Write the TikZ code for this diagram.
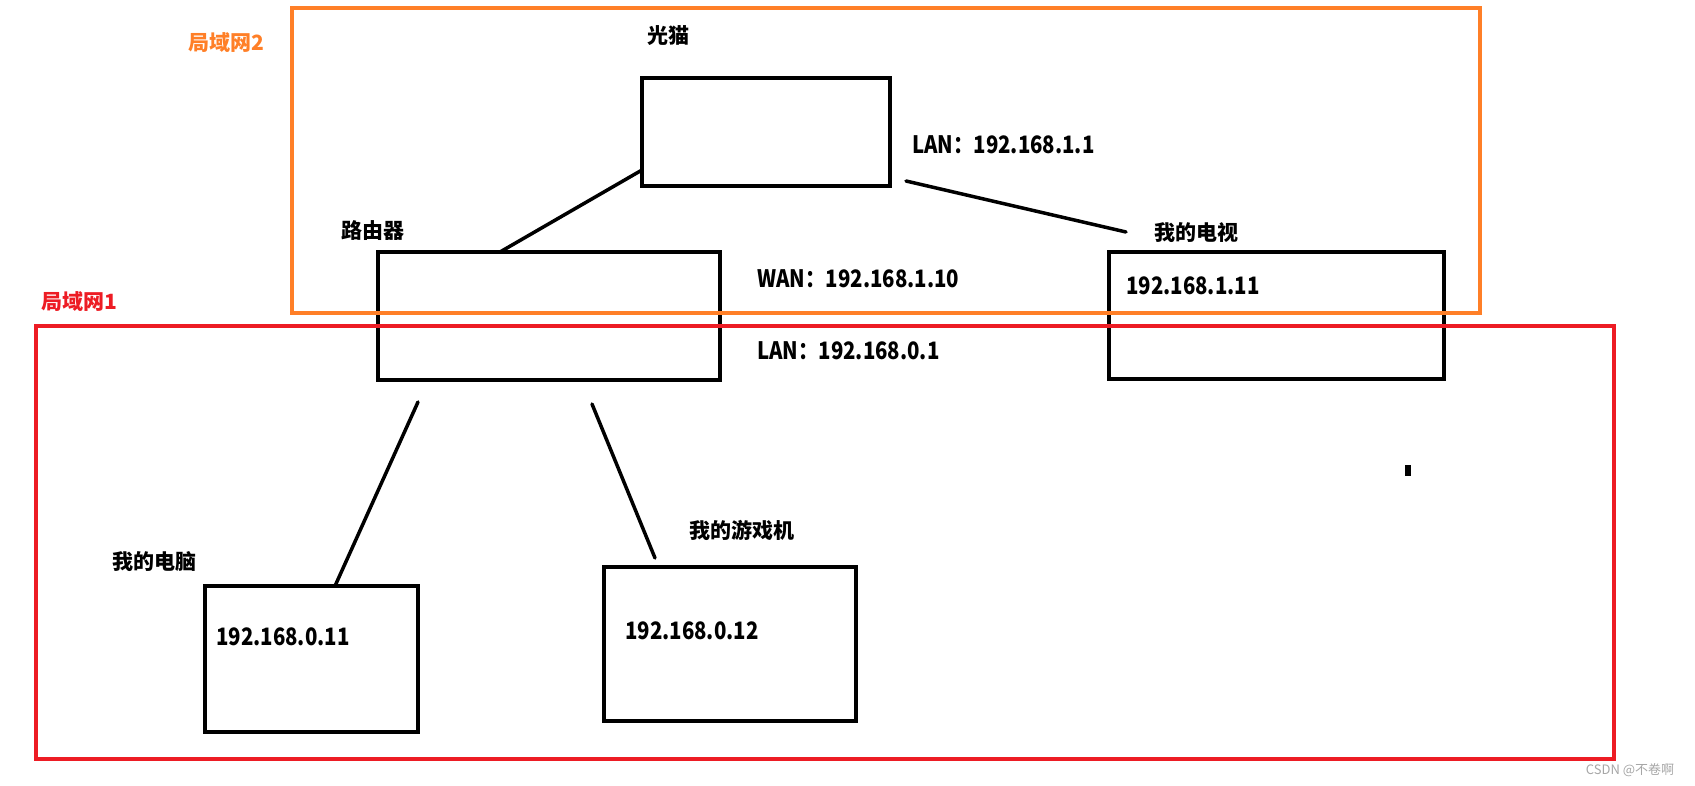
\documentclass[tikz,border=0pt]{standalone}
\usepackage{fontspec}
\setmainfont{Noto Sans CJK SC}
\newfontfamily\addrfont{Noto Sans CJK SC}[FakeStretch=0.85]
\usetikzlibrary{positioning}
\definecolor{zoneorange}{RGB}{255,127,39}
\definecolor{zonered}{RGB}{237,28,36}
\tikzset{
 box/.style={draw,line width=4pt,outer sep=0pt,inner sep=0pt},
 link/.style={line width=3.5pt,line cap=round},
 tag/.style={font=\fontsize{21}{25}\selectfont\bfseries,inner sep=0pt},
 addr/.style={font=\fontsize{24}{28}\selectfont\addrfont\bfseries,inner sep=0pt,anchor=west},
 zone/.style={line width=4pt}
}

\begin{document}
\begin{tikzpicture}[x=1pt,y=-1pt]
\useasboundingbox (0,0) rectangle (1695,786);
% devices
\node[box,minimum width=248pt,minimum height=108pt] (modem) at (766,132) {};
\node[box,minimum width=342pt,minimum height=128pt] (router) at (549,316) {};
\node[box,minimum width=335pt,minimum height=127pt] (tv) at (1276.5,315.5) {};
\node[box,minimum width=213pt,minimum height=146pt] (pc) at (311.5,659) {};
\node[box,minimum width=252pt,minimum height=154pt] (game) at (730,644) {};
% names
\node[tag] (modemname) at (668,36) {光猫};
\node[tag] (routername) at (373,231) {路由器};
\node[tag] (tvname) at (1196,233) {我的电视};
\node[tag] (pcname) at (154,562) {我的电脑};
\node[tag] (gamename) at (742,530) {我的游戏机};
\node[tag,text=zoneorange] (lan2name) at (226,43) {局域网2};
\node[tag,text=zonered] (lan1name) at (79,302) {局域网1};
% addresses
\node[addr] (modemlan) at (912,145) {LAN：192.168.1.1};
\node[addr] (routerwan) at (757,279) {WAN：192.168.1.10};
\node[addr] (routerlan) at (757,351) {LAN：192.168.0.1};
\node[addr] (tvip) at (1126,286) {192.168.1.11};
\node[addr] (pcip) at (216,637) {192.168.0.11};
\node[addr] (gameip) at (625,631) {192.168.0.12};
% cables
\draw[link] ([yshift=16pt]modem.south west) -- ([xshift=122pt]router.north west);
\draw[link] ([shift={(16pt,5pt)}]modem.south east) -- ([shift={(17pt,20pt)}]tv.north west);
\draw[link] ([shift={(40pt,-22pt)}]router.south west) -- ([xshift=130pt]pc.north west);
\draw[link] ([shift={(214pt,-24pt)}]router.south west) -- ([shift={(51pt,9pt)}]game.north west);
% networks
\draw[zone,zoneorange] (292,8) rectangle (1480,313);
\draw[zone,zonered] (36,326) rectangle (1614,759);
\fill (1405,465) rectangle (1411,476);
\node[font=\fontsize{13}{15}\selectfont,text=gray!70,inner sep=0pt] (mark) at (1630,770) {CSDN @不卷啊};
\end{tikzpicture}
\end{document}
